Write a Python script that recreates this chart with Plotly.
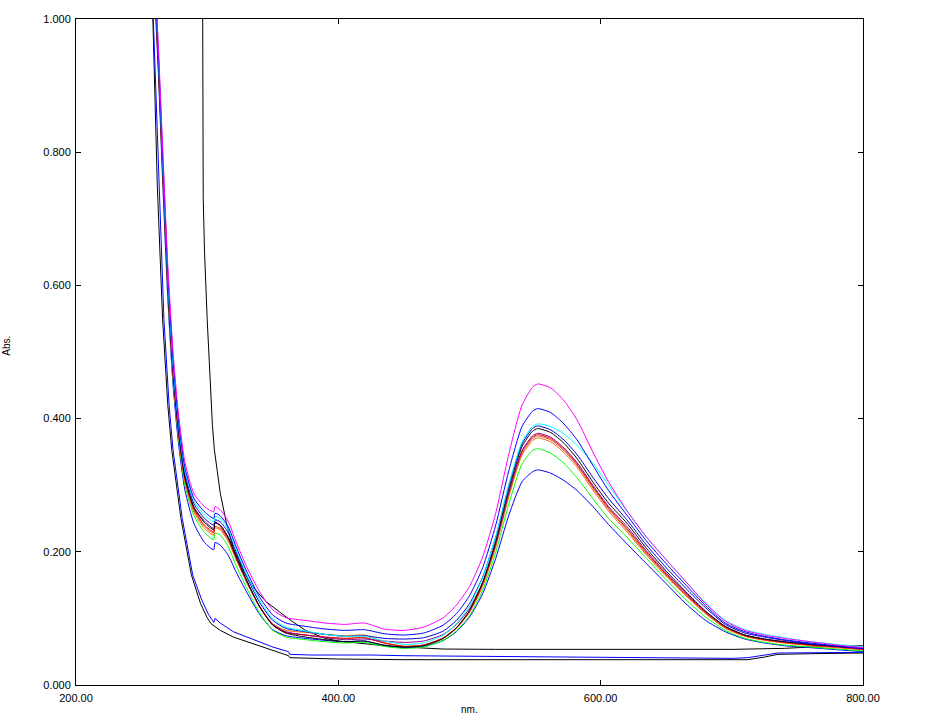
import plotly.graph_objects as go

# Common wavelength grid (nm) for the sample spectra
wl = [256, 260, 263, 266, 270, 274, 278, 283, 290, 298,
      305, 306, 310, 316, 322, 330, 340, 350, 360, 375,
      390, 405, 420, 435, 450, 465, 480, 490, 500, 510,
      520, 530, 540, 548, 552, 562, 572, 582, 594, 606,
      620, 635, 650, 665, 680, 695, 710, 725, 740, 760,
      780, 800]

magenta = [1.30, 1.08, 0.95, 0.81, 0.63, 0.50, 0.41, 0.335, 0.287, 0.268,
           0.260, 0.268, 0.263, 0.246, 0.215, 0.178, 0.140, 0.113, 0.101, 0.097,
           0.093, 0.091, 0.093, 0.084, 0.082, 0.087, 0.101, 0.120, 0.148, 0.192,
           0.258, 0.347, 0.420, 0.447, 0.452, 0.446, 0.427, 0.398, 0.350, 0.305,
           0.262, 0.222, 0.188, 0.155, 0.122, 0.096, 0.082, 0.075, 0.070, 0.065,
           0.060, 0.056]
blue1 = [1.30, 1.07, 0.94, 0.80, 0.62, 0.49, 0.40, 0.327, 0.280, 0.260,
         0.250, 0.258, 0.254, 0.238, 0.208, 0.171, 0.132, 0.105, 0.093, 0.088,
         0.084, 0.082, 0.083, 0.077, 0.075, 0.078, 0.090, 0.107, 0.134, 0.176,
         0.240, 0.322, 0.388, 0.411, 0.415, 0.409, 0.392, 0.368, 0.330, 0.292,
         0.255, 0.216, 0.182, 0.150, 0.119, 0.093, 0.080, 0.073, 0.068, 0.063,
         0.059, 0.055]
cyan = [1.30, 1.065, 0.935, 0.79, 0.61, 0.48, 0.395, 0.322, 0.276, 0.255,
        0.245, 0.253, 0.250, 0.234, 0.204, 0.166, 0.127, 0.099, 0.087, 0.081,
        0.076, 0.073, 0.073, 0.066, 0.061, 0.063, 0.075, 0.092, 0.119, 0.161,
        0.223, 0.301, 0.365, 0.388, 0.392, 0.388, 0.377, 0.360, 0.333, 0.300,
        0.261, 0.222, 0.188, 0.155, 0.123, 0.097, 0.083, 0.076, 0.071, 0.065,
        0.061, 0.057]
blue3 = [1.30, 1.06, 0.93, 0.785, 0.605, 0.475, 0.39, 0.318, 0.272, 0.250,
         0.240, 0.248, 0.245, 0.229, 0.200, 0.163, 0.124, 0.097, 0.085, 0.080,
         0.076, 0.073, 0.074, 0.070, 0.069, 0.071, 0.081, 0.097, 0.122, 0.162,
         0.222, 0.300, 0.362, 0.385, 0.389, 0.383, 0.368, 0.346, 0.312, 0.280,
         0.248, 0.210, 0.176, 0.145, 0.116, 0.091, 0.078, 0.072, 0.067, 0.062,
         0.058, 0.055]
blackA = [1.30, 1.055, 0.925, 0.78, 0.60, 0.47, 0.385, 0.312, 0.266, 0.244,
          0.233, 0.244, 0.240, 0.222, 0.194, 0.158, 0.118, 0.090, 0.078, 0.072,
          0.068, 0.065, 0.066, 0.060, 0.057, 0.059, 0.070, 0.086, 0.112, 0.154,
          0.216, 0.295, 0.358, 0.381, 0.385, 0.379, 0.363, 0.340, 0.305, 0.273,
          0.243, 0.205, 0.171, 0.140, 0.111, 0.088, 0.075, 0.069, 0.065, 0.061,
          0.058, 0.055]
purple = [1.30, 1.055, 0.925, 0.78, 0.60, 0.47, 0.385, 0.313, 0.267, 0.246,
          0.235, 0.243, 0.240, 0.222, 0.193, 0.157, 0.118, 0.091, 0.080, 0.075,
          0.071, 0.068, 0.069, 0.066, 0.064, 0.066, 0.076, 0.091, 0.115, 0.154,
          0.213, 0.290, 0.352, 0.374, 0.378, 0.372, 0.356, 0.334, 0.300, 0.268,
          0.238, 0.201, 0.168, 0.138, 0.110, 0.088, 0.075, 0.069, 0.065, 0.061,
          0.058, 0.054]
brown = [1.30, 1.05, 0.92, 0.775, 0.595, 0.465, 0.38, 0.308, 0.262, 0.238,
         0.228, 0.238, 0.235, 0.218, 0.190, 0.155, 0.117, 0.090, 0.079, 0.075,
         0.072, 0.070, 0.071, 0.063, 0.058, 0.060, 0.070, 0.085, 0.110, 0.150,
         0.210, 0.286, 0.348, 0.370, 0.374, 0.368, 0.352, 0.330, 0.296, 0.264,
         0.233, 0.197, 0.165, 0.135, 0.108, 0.086, 0.074, 0.068, 0.064, 0.060,
         0.057, 0.053]
orange = [1.30, 1.05, 0.92, 0.775, 0.595, 0.463, 0.377, 0.305, 0.259, 0.235,
          0.225, 0.236, 0.233, 0.216, 0.189, 0.155, 0.118, 0.092, 0.082, 0.079,
          0.076, 0.074, 0.075, 0.064, 0.058, 0.060, 0.070, 0.085, 0.109, 0.148,
          0.207, 0.283, 0.345, 0.367, 0.371, 0.365, 0.349, 0.327, 0.293, 0.261,
          0.230, 0.195, 0.163, 0.134, 0.107, 0.085, 0.073, 0.067, 0.063, 0.059,
          0.056, 0.053]
red = [1.30, 1.05, 0.92, 0.775, 0.597, 0.467, 0.382, 0.31, 0.264, 0.240,
       0.230, 0.245, 0.238, 0.220, 0.191, 0.156, 0.117, 0.090, 0.079, 0.075,
       0.072, 0.070, 0.071, 0.063, 0.058, 0.060, 0.071, 0.086, 0.111, 0.152,
       0.212, 0.289, 0.351, 0.372, 0.376, 0.370, 0.354, 0.332, 0.298, 0.266,
       0.235, 0.199, 0.166, 0.136, 0.109, 0.087, 0.074, 0.068, 0.064, 0.060,
       0.057, 0.054]
green = [1.30, 1.045, 0.915, 0.77, 0.59, 0.46, 0.373, 0.30, 0.254, 0.229,
         0.218, 0.228, 0.225, 0.208, 0.180, 0.146, 0.108, 0.082, 0.072, 0.068,
         0.065, 0.063, 0.064, 0.058, 0.055, 0.057, 0.067, 0.081, 0.104, 0.142,
         0.199, 0.272, 0.332, 0.352, 0.355, 0.348, 0.333, 0.311, 0.280, 0.250,
         0.222, 0.190, 0.158, 0.128, 0.102, 0.082, 0.070, 0.064, 0.060, 0.057,
         0.054, 0.051]
blue2 = [1.30, 1.04, 0.91, 0.76, 0.58, 0.45, 0.365, 0.293, 0.242, 0.214,
         0.203, 0.214, 0.210, 0.195, 0.170, 0.140, 0.106, 0.083, 0.074, 0.070,
         0.067, 0.065, 0.066, 0.059, 0.056, 0.058, 0.067, 0.080, 0.102, 0.137,
         0.190, 0.255, 0.305, 0.320, 0.323, 0.318, 0.307, 0.292, 0.268, 0.241,
         0.212, 0.182, 0.152, 0.122, 0.097, 0.080, 0.069, 0.063, 0.059, 0.056,
         0.053, 0.050]

# Reference / blank spectra
wl_bk = [250, 258.6, 262, 266, 270, 273, 280, 288, 295, 300, 303, 306, 310, 320,
         335, 350, 362, 363, 380, 400, 450, 500, 550, 600, 650, 700, 712, 725,
         735, 760, 800]
black_blank = [1.5, 1.0, 0.75, 0.55, 0.42, 0.353, 0.25, 0.165, 0.122, 0.101, 0.092,
               0.088, 0.082, 0.072, 0.062, 0.052, 0.044, 0.041, 0.040, 0.039,
               0.038, 0.038, 0.037, 0.037, 0.037, 0.037, 0.038, 0.042, 0.046,
               0.047, 0.048]
wl_bb = [250, 259, 263, 267, 271, 274, 281, 289, 296, 301, 304, 305, 306, 310, 320,
         335, 350, 362, 363, 380, 400, 420, 425, 450, 500, 550, 600, 650, 700,
         712, 725, 735, 800]
blue_blank = [1.5, 1.0, 0.75, 0.55, 0.42, 0.353, 0.25, 0.165, 0.127, 0.106, 0.097,
              0.094, 0.100, 0.093, 0.080, 0.068, 0.057, 0.050, 0.046, 0.045, 0.045,
              0.046, 0.045, 0.044, 0.043, 0.042, 0.041, 0.040, 0.040, 0.041, 0.045,
              0.048, 0.049]
wl_c = [294, 296.3, 297, 298, 300, 302, 304, 305.5, 310, 315, 320, 328, 335, 345,
        355, 363, 375, 390, 400, 420, 440, 460, 480, 520, 600, 650, 700, 740,
        760, 800]
black_c = [1.5, 1.2, 0.73, 0.65, 0.55, 0.46, 0.39, 0.353, 0.288, 0.24, 0.205, 0.17,
           0.147, 0.125, 0.110, 0.098, 0.082, 0.070, 0.066, 0.062, 0.058, 0.056,
           0.054, 0.0535, 0.054, 0.054, 0.0535, 0.055, 0.057, 0.059]

fig = go.Figure()

blank_series = [
    (wl_bk, black_blank, "#000000"),
    (wl_bb, blue_blank, "#0000FF"),
    (wl_c, black_c, "#000000"),
]
for xs, ys, col in blank_series:
    fig.add_trace(go.Scatter(x=xs, y=ys, mode="lines",
                             line=dict(color=col, width=1), showlegend=False))

sample_series = [
    (blue2, "#0000FF"),
    (green, "#00FF00"),
    (orange, "#FF6600"),
    (brown, "#C06030"),
    (red, "#FF0000"),
    (purple, "#8B008B"),
    (blackA, "#000000"),
    (blue3, "#0000CC"),
    (cyan, "#00FFFF"),
    (blue1, "#0000FF"),
    (magenta, "#FF00FF"),
]
for ys, col in sample_series:
    fig.add_trace(go.Scatter(x=wl, y=ys, mode="lines",
                             line=dict(color=col, width=1, shape="spline",
                                       smoothing=0.6),
                             showlegend=False))

font = dict(family="Liberation Sans, Arial, sans-serif", size=11, color="#000000")
title_font = dict(family="Liberation Sans, Arial, sans-serif", size=10, color="#000000")

fig.update_layout(
    width=936, height=717, autosize=False,
    margin=dict(l=76, r=73, t=19, b=32),
    paper_bgcolor="white", plot_bgcolor="white",
    font=font,
    xaxis=dict(range=[200, 800], tickvals=[200, 400, 600, 800], tickformat=".2f",
               ticks="inside", ticklen=5, tickcolor="black", mirror="ticks",
               showline=True, linecolor="black", linewidth=1, showgrid=False,
               zeroline=False, automargin=False, ticklabelstandoff=3,
               tickfont=font),
    yaxis=dict(range=[0, 1], tickvals=[0, 0.2, 0.4, 0.6, 0.8, 1.0], tickformat=".3f",
               ticks="inside", ticklen=5, tickcolor="black", mirror="ticks",
               showline=True, linecolor="black", linewidth=1, showgrid=False,
               zeroline=False, automargin=False, ticklabelstandoff=2,
               tickfont=font),
    annotations=[
        dict(text="Abs.", xref="paper", yref="paper", x=-0.0885, y=0.51,
             textangle=-90, showarrow=False, font=title_font,
             xanchor="center", yanchor="middle"),
        dict(text="nm.", xref="paper", yref="paper", x=0.5, y=-0.0375,
             showarrow=False, font=title_font, xanchor="center", yanchor="middle"),
    ],
)

fig.write_html("out.html", config={"displayModeBar": False},
               post_script="document.body.style.margin='0';document.body.style.padding='0';")
